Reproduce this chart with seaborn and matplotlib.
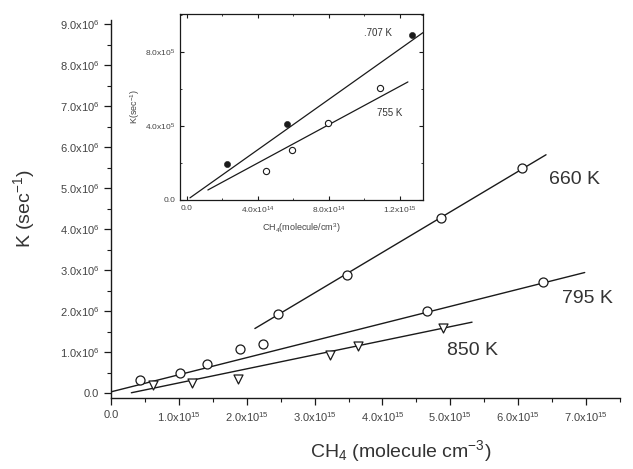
import numpy as np
import pandas as pd
import matplotlib
matplotlib.use("Agg")
import matplotlib.pyplot as plt
from matplotlib.ticker import MultipleLocator
import seaborn as sns

# ---- main panel data (x in 1e15 molecule/cm^3, y in 1e6 s^-1) ----
x660 = [2.46, 3.48, 4.86, 6.05]
y660 = [1.93, 2.89, 4.27, 5.49]
x795 = [0.43, 1.02, 1.41, 1.90, 2.24, 4.65, 6.36]
y795 = [0.31, 0.50, 0.72, 1.08, 1.20, 2.00, 2.72]
x850 = [0.62, 1.19, 1.87, 3.22, 3.64, 4.89]
y850 = [0.19, 0.24, 0.35, 0.92, 1.16, 1.59]

# linear fits: (slope, intercept, x start, x end)
fit660 = (0.988, -0.52, 2.12, 6.41)
fit795 = (0.417, 0.03, 0.0, 6.98)
fit850 = (0.343, -0.095, 0.30, 5.32)

xticks_main = [0, 1, 2, 3, 4, 5, 6, 7]
xticklabels_main = ["0.0"] + [f"{v}.0x10$^{{15}}$" for v in range(1, 8)]
yticks_main = [0, 1, 2, 3, 4, 5, 6, 7, 8, 9]
yticklabels_main = ["0.0"] + [f"{v}.0x10$^{{6}}$" for v in range(1, 10)]

# ---- inset data (x in 1e14 molecule/cm^3, y in 1e5 s^-1) ----
x707 = [2.25, 5.63, 12.7]
y707 = [1.95, 4.10, 8.90]
x755 = [4.45, 5.90, 7.94, 10.9]
y755 = [1.57, 2.70, 4.16, 6.05]
fit707 = (0.68, 0.0, 0.17, 13.3)
fit755 = (0.518, -0.07, 1.18, 12.45)

xticks_in = [0, 4, 8, 12]
xticklabels_in = ["0.0", "4.0x10$^{14}$", "8.0x10$^{14}$", "1.2x10$^{15}$"]
yticks_in = [0, 4, 8]
yticklabels_in = ["0.0", "4.0x10$^{5}$", "8.0x10$^{5}$"]

sns.set_style("ticks")
plt.rcParams["font.family"] = ["Liberation Sans", "DejaVu Sans"]
plt.rcParams["mathtext.fontset"] = "custom"
plt.rcParams["mathtext.rm"] = "Liberation Sans"
plt.rcParams["mathtext.it"] = "Liberation Sans:italic"
plt.rcParams["mathtext.bf"] = "Liberation Sans:bold"

INK = "#1a1a1a"


def fit_frame(fit):
    slope, icpt, x0, x1 = fit
    xs = np.array([x0, x1])
    return pd.DataFrame({"x": xs, "y": slope * xs + icpt})


fig = plt.figure(figsize=(6.33, 4.69), dpi=100)
ax = fig.add_axes([111 / 633, 71 / 469, 509 / 633, 378 / 469])

for fit in (fit660, fit795, fit850):
    sns.lineplot(data=fit_frame(fit), x="x", y="y", ax=ax, color=INK, lw=1.0)

circ = dict(s=42, facecolor="white", edgecolor=INK, linewidth=0.9, zorder=3)
sns.scatterplot(x=x660, y=y660, ax=ax, marker="o", **circ)
sns.scatterplot(x=x795, y=y795, ax=ax, marker="o", **circ)
sns.scatterplot(x=x850, y=y850, ax=ax, marker="v", **circ)

ax.set_xlim(0, 7.5)
ax.set_ylim(-0.12, 9.1)
ax.set_xticks(xticks_main)
ax.set_xticklabels(xticklabels_main)
ax.set_yticks(yticks_main)
ax.set_yticklabels(yticklabels_main)
ax.xaxis.set_minor_locator(MultipleLocator(0.5))
ax.yaxis.set_minor_locator(MultipleLocator(0.5))
ax.tick_params(which="major", direction="out", length=5, width=0.9,
               labelsize=8, colors=INK, labelcolor="#444444")
ax.tick_params(which="minor", direction="out", length=3, width=0.8, colors=INK)
sns.despine(ax=ax)
for s in ("left", "bottom"):
    ax.spines[s].set_color(INK)
    ax.spines[s].set_linewidth(1.0)

ax.set_xlabel("CH$_4$ (molecule cm$^{-3}$)", fontsize=14, color="#333333")
ax.xaxis.set_label_coords(0.57, -0.105)
ax.set_ylabel("K (sec$^{-1}$)", fontsize=14, color="#333333")
ax.yaxis.set_label_coords(-0.145, 0.5)

ax.text(6.45, 5.22, "660 K", fontsize=14, color="#333333", va="center")
ax.text(6.65, 2.30, "795 K", fontsize=14, color="#333333", va="center")
ax.text(4.95, 1.03, "850 K", fontsize=14, color="#333333", va="center")

# ---- inset ----
axi = fig.add_axes([180 / 633, 269 / 469, 243 / 633, 186 / 469])
for fit in (fit707, fit755):
    sns.lineplot(data=fit_frame(fit), x="x", y="y", ax=axi, color=INK, lw=0.9)
sns.scatterplot(x=x707, y=y707, ax=axi, marker="o", s=20, color=INK,
                edgecolor=INK, zorder=3)
sns.scatterplot(x=x755, y=y755, ax=axi, marker="o", s=20, facecolor="white",
                edgecolor=INK, linewidth=0.8, zorder=3)
axi.set_xlim(-0.39, 13.3)
axi.set_ylim(0, 10.05)
axi.set_xticks(xticks_in)
axi.set_xticklabels(xticklabels_in)
axi.set_yticks(yticks_in)
axi.set_yticklabels(yticklabels_in)
axi.xaxis.set_minor_locator(MultipleLocator(2))
axi.yaxis.set_minor_locator(MultipleLocator(2))
axi.tick_params(which="both", direction="in", top=True, right=True,
                labelsize=6, colors=INK, labelcolor="#444444")
axi.tick_params(which="major", length=3, width=0.8)
axi.tick_params(which="minor", length=1.5, width=0.6)
for s in axi.spines.values():
    s.set_color(INK)
    s.set_linewidth(0.9)
axi.set_xlabel("CH$_4$(molecule/cm$^3$)", fontsize=6.5, color="#444444", labelpad=4)
axi.set_ylabel("K(sec$^{-1}$)", fontsize=6.5, color="#444444", labelpad=2)
axi.text(10.0, 9.0, ".707 K", fontsize=7, color="#333333", va="center")
axi.text(10.7, 4.7, "755 K", fontsize=7, color="#333333", va="center")

fig.savefig("out.png", dpi=100)
